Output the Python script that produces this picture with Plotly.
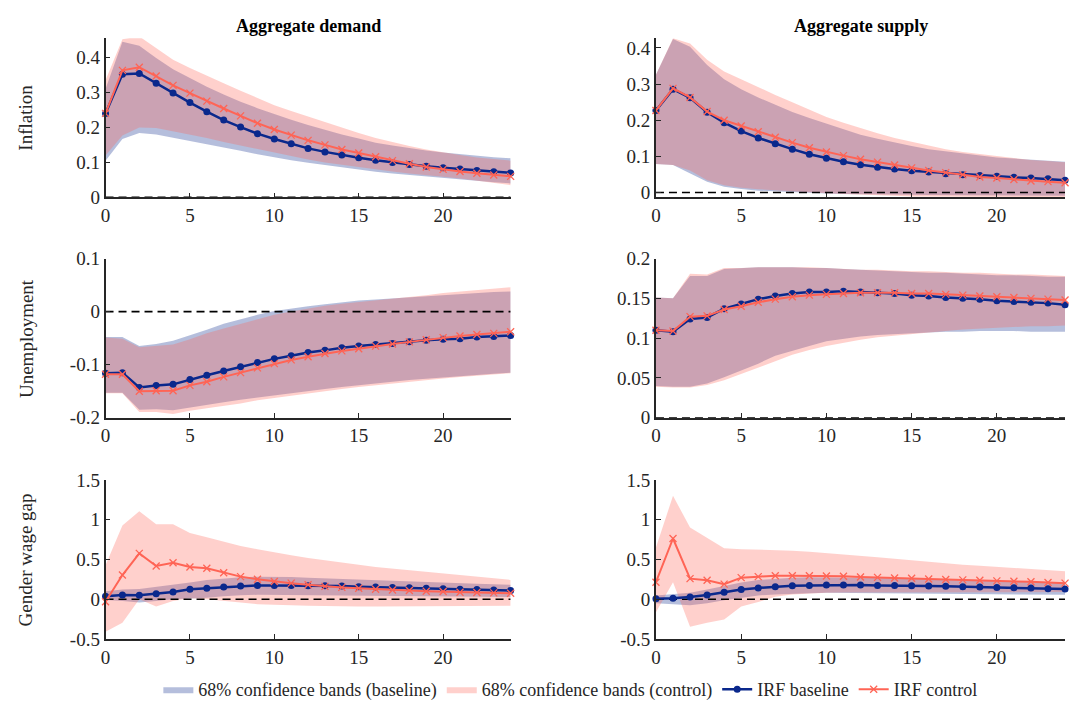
import plotly.graph_objects as go
from plotly.subplots import make_subplots

horizons = list(range(25))

# ---------------- Aggregate demand: Inflation ----------------
ad_inf_base = [0.240,0.352,0.354,0.326,0.298,0.271,0.245,0.221,0.201,0.182,0.167,0.153,0.140,0.130,0.121,0.113,0.106,0.100,0.094,0.089,0.085,0.081,0.077,0.073,0.070]
ad_inf_ctrl = [0.240,0.363,0.372,0.347,0.320,0.298,0.275,0.254,0.233,0.212,0.194,0.178,0.163,0.150,0.137,0.127,0.116,0.105,0.096,0.087,0.080,0.074,0.069,0.064,0.060]
ad_inf_base_up = [0.310,0.445,0.433,0.398,0.366,0.340,0.316,0.294,0.273,0.255,0.238,0.222,0.207,0.193,0.180,0.168,0.156,0.148,0.140,0.134,0.128,0.123,0.119,0.115,0.112]
ad_inf_base_lo = [0.105,0.167,0.184,0.180,0.170,0.161,0.152,0.142,0.133,0.123,0.114,0.106,0.099,0.092,0.085,0.079,0.073,0.068,0.063,0.058,0.054,0.050,0.047,0.043,0.040]
ad_inf_ctrl_up = [0.335,0.452,0.460,0.426,0.393,0.370,0.347,0.326,0.305,0.284,0.263,0.247,0.231,0.214,0.198,0.184,0.170,0.158,0.147,0.137,0.128,0.121,0.114,0.109,0.105]
ad_inf_ctrl_lo = [0.120,0.177,0.200,0.198,0.189,0.180,0.170,0.158,0.147,0.137,0.128,0.118,0.108,0.100,0.093,0.086,0.080,0.074,0.068,0.063,0.059,0.054,0.049,0.042,0.035]

# ---------------- Aggregate supply: Inflation ----------------
as_inf_base = [0.227,0.286,0.262,0.222,0.193,0.170,0.151,0.135,0.120,0.106,0.095,0.085,0.077,0.070,0.065,0.060,0.057,0.052,0.049,0.047,0.045,0.042,0.040,0.038,0.034]
as_inf_ctrl = [0.227,0.288,0.263,0.224,0.200,0.184,0.168,0.153,0.138,0.124,0.112,0.102,0.092,0.084,0.076,0.068,0.061,0.055,0.049,0.043,0.040,0.036,0.032,0.030,0.027]
as_inf_base_up = [0.326,0.425,0.403,0.353,0.313,0.286,0.263,0.242,0.223,0.206,0.191,0.175,0.160,0.149,0.138,0.129,0.120,0.114,0.108,0.102,0.097,0.094,0.091,0.088,0.085]
as_inf_base_lo = [0.079,0.076,0.052,0.030,0.016,0.010,0.005,0.003,0.001,-0.001,-0.003,-0.004,-0.005,-0.005,-0.006,-0.006,-0.007,-0.007,-0.008,-0.008,-0.008,-0.008,-0.009,-0.009,-0.009]
as_inf_ctrl_up = [0.326,0.427,0.412,0.367,0.335,0.313,0.290,0.270,0.250,0.229,0.209,0.193,0.178,0.164,0.151,0.140,0.129,0.120,0.112,0.106,0.100,0.095,0.090,0.087,0.084]
as_inf_ctrl_lo = [0.079,0.076,0.061,0.034,0.020,0.013,0.009,0.006,0.003,0.000,-0.002,-0.004,-0.006,-0.008,-0.009,-0.011,-0.011,-0.012,-0.012,-0.012,-0.013,-0.013,-0.013,-0.013,-0.013]

# ---------------- Aggregate demand: Unemployment ----------------
ad_un_base = [-0.116,-0.115,-0.143,-0.139,-0.137,-0.128,-0.120,-0.112,-0.104,-0.096,-0.089,-0.083,-0.077,-0.073,-0.068,-0.065,-0.062,-0.060,-0.057,-0.054,-0.052,-0.051,-0.048,-0.047,-0.045]
ad_un_ctrl = [-0.118,-0.118,-0.150,-0.149,-0.149,-0.139,-0.132,-0.123,-0.115,-0.106,-0.098,-0.091,-0.085,-0.079,-0.074,-0.070,-0.065,-0.061,-0.057,-0.053,-0.049,-0.046,-0.043,-0.041,-0.038]
ad_un_base_up = [-0.048,-0.048,-0.065,-0.061,-0.055,-0.045,-0.034,-0.023,-0.014,-0.006,0.001,0.006,0.010,0.014,0.018,0.021,0.023,0.025,0.027,0.030,0.032,0.034,0.035,0.037,0.038]
ad_un_base_lo = [-0.153,-0.153,-0.185,-0.184,-0.186,-0.180,-0.176,-0.171,-0.166,-0.161,-0.157,-0.153,-0.150,-0.146,-0.142,-0.138,-0.135,-0.132,-0.129,-0.126,-0.124,-0.122,-0.120,-0.117,-0.115]
ad_un_ctrl_up = [-0.049,-0.051,-0.067,-0.065,-0.062,-0.052,-0.041,-0.032,-0.023,-0.014,-0.006,0.000,0.006,0.011,0.015,0.018,0.021,0.024,0.027,0.031,0.035,0.038,0.040,0.043,0.046]
ad_un_ctrl_lo = [-0.154,-0.154,-0.189,-0.189,-0.193,-0.187,-0.182,-0.177,-0.173,-0.167,-0.162,-0.158,-0.154,-0.150,-0.146,-0.142,-0.139,-0.135,-0.132,-0.129,-0.126,-0.123,-0.121,-0.118,-0.116]

# ---------------- Aggregate supply: Unemployment ----------------
as_un_base = [0.110,0.108,0.124,0.126,0.137,0.143,0.149,0.153,0.156,0.158,0.158,0.159,0.158,0.157,0.156,0.154,0.153,0.151,0.150,0.149,0.147,0.146,0.145,0.144,0.142]
as_un_ctrl = [0.110,0.109,0.127,0.128,0.136,0.140,0.145,0.149,0.152,0.154,0.155,0.156,0.157,0.157,0.157,0.156,0.156,0.155,0.154,0.153,0.152,0.151,0.150,0.149,0.148]
as_un_base_up = [0.151,0.150,0.178,0.178,0.187,0.188,0.189,0.189,0.189,0.188,0.188,0.187,0.186,0.185,0.184,0.183,0.182,0.182,0.181,0.180,0.179,0.179,0.178,0.177,0.177]
as_un_base_lo = [0.040,0.039,0.039,0.043,0.051,0.059,0.068,0.078,0.084,0.090,0.096,0.099,0.102,0.104,0.105,0.106,0.107,0.108,0.108,0.109,0.109,0.109,0.108,0.108,0.108]
as_un_ctrl_up = [0.151,0.150,0.181,0.180,0.188,0.188,0.189,0.189,0.189,0.189,0.188,0.187,0.186,0.186,0.185,0.184,0.184,0.183,0.182,0.182,0.181,0.180,0.180,0.179,0.178]
as_un_ctrl_lo = [0.039,0.038,0.038,0.041,0.047,0.054,0.063,0.071,0.079,0.085,0.090,0.094,0.098,0.101,0.103,0.105,0.107,0.109,0.111,0.112,0.113,0.114,0.115,0.115,0.116]

# ---------------- Aggregate demand: Gender wage gap ----------------
ad_gw_base = [0.040,0.053,0.050,0.070,0.093,0.126,0.138,0.154,0.167,0.175,0.175,0.175,0.171,0.171,0.167,0.159,0.154,0.150,0.146,0.138,0.134,0.126,0.122,0.118,0.110]
ad_gw_ctrl = [-0.030,0.305,0.577,0.419,0.459,0.407,0.390,0.333,0.285,0.252,0.224,0.203,0.183,0.163,0.150,0.138,0.126,0.118,0.110,0.102,0.098,0.089,0.085,0.081,0.077]
ad_gw_base_up = [0.100,0.122,0.130,0.154,0.183,0.211,0.244,0.264,0.276,0.285,0.285,0.280,0.272,0.264,0.256,0.246,0.236,0.228,0.220,0.211,0.203,0.199,0.195,0.189,0.183]
ad_gw_base_lo = [-0.010,-0.020,-0.040,-0.020,0.000,0.012,0.020,0.040,0.050,0.057,0.060,0.060,0.060,0.057,0.053,0.051,0.049,0.045,0.040,0.038,0.036,0.034,0.033,0.030,0.028]
ad_gw_ctrl_up = [0.427,0.927,1.106,0.943,0.943,0.833,0.780,0.724,0.671,0.630,0.589,0.554,0.520,0.489,0.459,0.433,0.407,0.386,0.366,0.345,0.325,0.305,0.285,0.265,0.244]
ad_gw_ctrl_lo = [-0.407,-0.293,0.000,-0.089,-0.020,0.012,0.000,-0.020,-0.041,-0.061,-0.069,-0.075,-0.081,-0.085,-0.089,-0.089,-0.089,-0.089,-0.089,-0.089,-0.089,-0.087,-0.085,-0.083,-0.081]

# ---------------- Aggregate supply: Gender wage gap ----------------
as_gw_base = [0.008,0.012,0.028,0.053,0.089,0.122,0.142,0.159,0.171,0.175,0.179,0.179,0.179,0.175,0.175,0.171,0.167,0.163,0.159,0.154,0.150,0.146,0.142,0.134,0.130]
as_gw_ctrl = [0.215,0.764,0.260,0.240,0.191,0.272,0.285,0.297,0.297,0.297,0.293,0.289,0.280,0.276,0.268,0.264,0.256,0.248,0.244,0.240,0.232,0.228,0.220,0.211,0.203]
as_gw_base_up = [0.049,0.061,0.081,0.122,0.171,0.211,0.244,0.260,0.272,0.276,0.276,0.276,0.272,0.268,0.264,0.260,0.256,0.250,0.244,0.238,0.232,0.226,0.220,0.215,0.211]
as_gw_base_lo = [-0.049,-0.061,-0.073,-0.049,-0.012,0.020,0.049,0.061,0.073,0.077,0.081,0.081,0.081,0.079,0.077,0.075,0.073,0.071,0.069,0.067,0.065,0.063,0.061,0.059,0.057]
as_gw_ctrl_up = [0.650,1.300,0.902,0.772,0.642,0.630,0.626,0.622,0.610,0.596,0.581,0.565,0.549,0.528,0.508,0.488,0.467,0.451,0.435,0.421,0.407,0.392,0.378,0.366,0.354]
as_gw_ctrl_lo = [-0.163,0.215,-0.346,-0.293,-0.252,-0.089,-0.033,0.033,0.061,0.073,0.081,0.085,0.089,0.089,0.091,0.091,0.093,0.093,0.093,0.093,0.093,0.092,0.092,0.091,0.091]

col_titles = ["Aggregate demand", "Aggregate supply"]
row_titles = ["Inflation", "Unemployment", "Gender wage gap"]
x_ticks = [0, 5, 10, 15, 20]
y_ticks_inf = [0, 0.1, 0.2, 0.3, 0.4]
y_ticklabels_inf = ["0", "0.1", "0.2", "0.3", "0.4"]
y_ticks_un_ad = [-0.2, -0.1, 0, 0.1]
y_ticklabels_un_ad = ["-0.2", "-0.1", "0", "0.1"]
y_ticks_un_as = [0, 0.05, 0.1, 0.15, 0.2]
y_ticklabels_un_as = ["0", "0.05", "0.1", "0.15", "0.2"]
y_ticks_gw = [-0.5, 0, 0.5, 1, 1.5]
y_ticklabels_gw = ["-0.5", "0", "0.5", "1", "1.5"]
legend_labels = ["68% confidence bands (baseline)", "68% confidence bands (control)", "IRF baseline", "IRF control"]

BASE_COLOR = "rgb(10,40,140)"
CTRL_COLOR = "rgb(255,100,85)"
BASE_FILL = "rgba(10,40,140,0.30)"
CTRL_FILL = "rgba(255,100,85,0.30)"
AXIS_COLOR = "#262626"
FONT = "Liberation Serif, Times New Roman, serif"

panels = [
    (1, 1, ad_inf_base, ad_inf_ctrl, ad_inf_base_up, ad_inf_base_lo, ad_inf_ctrl_up, ad_inf_ctrl_lo, [0, 0.455], y_ticks_inf, y_ticklabels_inf),
    (1, 2, as_inf_base, as_inf_ctrl, as_inf_base_up, as_inf_base_lo, as_inf_ctrl_up, as_inf_ctrl_lo, [-0.0135, 0.427], y_ticks_inf, y_ticklabels_inf),
    (2, 1, ad_un_base, ad_un_ctrl, ad_un_base_up, ad_un_base_lo, ad_un_ctrl_up, ad_un_ctrl_lo, [-0.2, 0.1], y_ticks_un_ad, y_ticklabels_un_ad),
    (2, 2, as_un_base, as_un_ctrl, as_un_base_up, as_un_base_lo, as_un_ctrl_up, as_un_ctrl_lo, [0, 0.2], y_ticks_un_as, y_ticklabels_un_as),
    (3, 1, ad_gw_base, ad_gw_ctrl, ad_gw_base_up, ad_gw_base_lo, ad_gw_ctrl_up, ad_gw_ctrl_lo, [-0.5, 1.5], y_ticks_gw, y_ticklabels_gw),
    (3, 2, as_gw_base, as_gw_ctrl, as_gw_base_up, as_gw_base_lo, as_gw_ctrl_up, as_gw_ctrl_lo, [-0.5, 1.5], y_ticks_gw, y_ticklabels_gw),
]

W, H = 1075, 721
x_domains = {1: [101 / W, 508 / W], 2: [654 / W, 1065 / W]}
y_px = {1: (29, 193), 2: (256, 420), 3: (484, 648)}
y_domains = {r: [(H - b) / H, (H - t) / H] for r, (t, b) in y_px.items()}

fig = make_subplots(rows=3, cols=2)

first = True
for (r, c, base, ctrl, bu, bl, cu, cl, yr, yt, ytl) in panels:
    poly_x = horizons + horizons[::-1]
    fig.add_trace(go.Scatter(x=poly_x, y=bu + bl[::-1], fill="toself", fillcolor=BASE_FILL,
                             line=dict(width=0, color=BASE_FILL), mode="lines", hoverinfo="skip",
                             name=legend_labels[0], showlegend=first, legendrank=1), row=r, col=c)
    fig.add_trace(go.Scatter(x=poly_x, y=cu + cl[::-1], fill="toself", fillcolor=CTRL_FILL,
                             line=dict(width=0, color=CTRL_FILL), mode="lines", hoverinfo="skip",
                             name=legend_labels[1], showlegend=first, legendrank=2), row=r, col=c)
    fig.add_trace(go.Scatter(x=[horizons[0], horizons[-1]], y=[0, 0], mode="lines",
                             line=dict(color="black", width=1.6, dash="8px,5px"),
                             showlegend=False, hoverinfo="skip"), row=r, col=c)
    fig.add_trace(go.Scatter(x=horizons, y=base, mode="lines+markers", name=legend_labels[2],
                             line=dict(color=BASE_COLOR, width=2.5),
                             marker=dict(symbol="circle", size=7, color=BASE_COLOR),
                             cliponaxis=False, showlegend=first, legendrank=3), row=r, col=c)
    fig.add_trace(go.Scatter(x=horizons, y=ctrl, mode="lines+markers", name=legend_labels[3],
                             line=dict(color=CTRL_COLOR, width=2),
                             marker=dict(symbol="x-thin", size=7, color=CTRL_COLOR,
                                         line=dict(width=1.3, color=CTRL_COLOR)),
                             cliponaxis=False, showlegend=first, legendrank=4), row=r, col=c)
    first = False
    fig.update_xaxes(row=r, col=c, domain=x_domains[c], range=[0, 24], tickvals=x_ticks,
                     ticktext=[str(v) for v in x_ticks], showgrid=False, zeroline=False,
                     showline=True, linecolor=AXIS_COLOR, linewidth=1.6, ticks="inside",
                     ticklen=5, tickwidth=1.3, tickcolor=AXIS_COLOR,
                     tickfont=dict(family=FONT, size=19, color="#262626"))
    fig.update_yaxes(row=r, col=c, domain=y_domains[r], range=yr, tickvals=yt, ticktext=ytl,
                     showgrid=False, zeroline=False, showline=True, linecolor=AXIS_COLOR,
                     linewidth=1.6, ticks="inside", ticklen=5, tickwidth=1.3,
                     tickcolor=AXIS_COLOR, tickfont=dict(family=FONT, size=19, color="#262626"))

annotations = []
for c, title in zip([1, 2], col_titles):
    xc = (x_domains[c][0] + x_domains[c][1]) / 2
    annotations.append(dict(text="<b>" + title + "</b>", x=xc, y=(H - 16) / H, xref="paper",
                            yref="paper", showarrow=False, xanchor="center", yanchor="middle",
                            font=dict(family=FONT, size=18, color="black")))
for r, lab in zip([1, 2, 3], row_titles):
    yc = (y_domains[r][0] + y_domains[r][1]) / 2
    annotations.append(dict(text=lab, x=21 / W, y=yc, xref="paper", yref="paper",
                            showarrow=False, textangle=-90, xanchor="center", yanchor="middle",
                            font=dict(family=FONT, size=19, color="#262626")))

fig.update_layout(
    width=W, height=H, margin=dict(l=0, r=0, t=0, b=0),
    paper_bgcolor="white", plot_bgcolor="white",
    annotations=annotations,
    showlegend=True,
    legend=dict(orientation="h", x=568 / W, xanchor="center", y=(H - 700) / H, yanchor="middle",
                font=dict(family=FONT, size=18, color="#262626"), itemwidth=30,
                bgcolor="rgba(0,0,0,0)", traceorder="normal", tracegroupgap=0),
)

fig.write_html("out.html")
